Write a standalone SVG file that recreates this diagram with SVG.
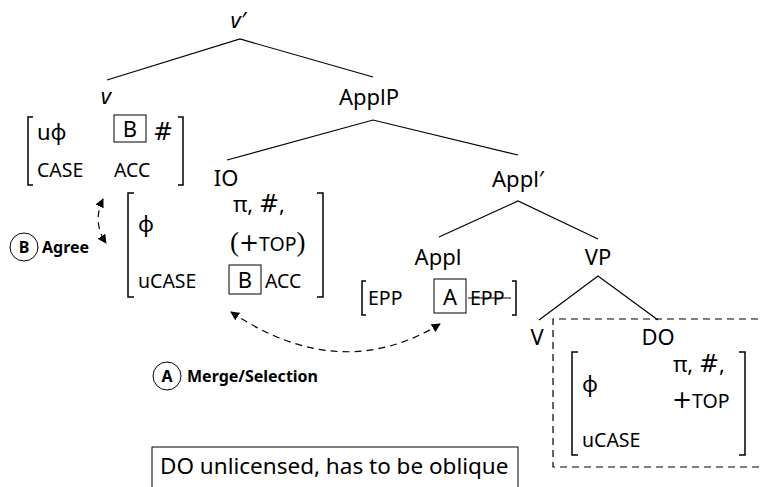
<svg xmlns="http://www.w3.org/2000/svg" width="763" height="487" viewBox="0 0 763 487">
<style>
text{font-family:"Noto Sans","Open Sans",sans-serif;fill:#000}
.lab{font-size:22px}
.sc{font-size:19.5px}
.m{font-family:"DejaVu Sans",sans-serif;font-size:24px}
.p{font-family:"Liberation Serif","DejaVu Serif",serif;font-size:27px}
.br{fill:none;stroke:#000;stroke-width:1.5}
.edge{fill:none;stroke:#000;stroke-width:1.2}
.box{fill:none;stroke:#000;stroke-width:1}
.dash{fill:none;stroke:#000;stroke-width:1.2;stroke-dasharray:7 5}
.bold{font-size:16px;font-weight:bold}
</style>
<defs>
<marker id="ah" viewBox="0 0 10 10" refX="9" refY="5" markerWidth="9" markerHeight="9" markerUnits="userSpaceOnUse" orient="auto-start-reverse">
<path d="M0,0 L10,5 L0,10 Z" fill="#000"/>
</marker>
</defs>

<g id="connectors">
<path class="edge" d="M107,80 L240,39 L373,77"/>
<path class="edge" d="M227,160 L373,120 L518,155"/>
<path class="edge" d="M439,237 L518,201 L598,239"/>
<path class="edge" d="M539,320 L598,276 L658,320"/>
<path class="dash" d="M103,199 Q92,222 106,243" marker-start="url(#ah)" marker-end="url(#ah)"/>
<path class="dash" d="M231,312 Q340,385 440,324" marker-start="url(#ah)" marker-end="url(#ah)"/>
</g>

<g id="vbar">
<text class="lab" x="238" y="28" text-anchor="middle" font-style="italic">v′</text>
</g>

<g id="v">
<text class="lab" x="106" y="104" text-anchor="middle" font-style="italic">v</text>
<path class="br" d="M33,117 H28 V185 H33"/>
<path class="br" d="M178,117 H183 V185 H178"/>
<text class="lab" x="37" y="140">uϕ</text>
<rect class="box" x="114" y="115" width="32" height="27"/>
<text class="lab" x="130" y="137" text-anchor="middle">B</text>
<text class="m" x="153" y="140">#</text>
<text class="sc" x="37" y="177">CASE</text>
<text class="sc" x="114" y="177">ACC</text>
</g>

<g id="ApplP">
<text class="lab" x="369" y="105" text-anchor="middle">ApplP</text>
</g>

<g id="IO">
<text class="lab" x="226" y="186" text-anchor="middle">IO</text>
<path class="br" d="M134,193 H128 V297 H134"/>
<path class="br" d="M317,193 H323 V297 H317"/>
<text class="lab" x="138" y="232">ϕ</text>
<text class="lab" x="233" y="212">π, <tspan class="m">#</tspan>,</text>
<text class="lab" x="230" y="251"><tspan class="p">(</tspan><tspan class="m">+</tspan><tspan class="sc">TOP</tspan><tspan class="p">)</tspan></text>
<text class="sc" x="138" y="288">uCASE</text>
<rect class="box" x="229" y="265" width="32" height="29"/>
<text class="lab" x="245" y="288" text-anchor="middle">B</text>
<text class="sc" x="265" y="288">ACC</text>
</g>

<g id="Applbar">
<text class="lab" x="518" y="187" text-anchor="middle">Appl′</text>
</g>

<g id="Appl">
<text class="lab" x="438" y="265" text-anchor="middle">Appl</text>
<path class="br" d="M366,281 H362 V315 H366"/>
<path class="br" d="M512,281 H516 V315 H512"/>
<text class="sc" x="368" y="305">EPP</text>
<rect class="box" x="434" y="279" width="32" height="34"/>
<text class="lab" x="450" y="305" text-anchor="middle">A</text>
<text class="sc" x="470" y="305">EPP</text>
<line x1="468" y1="298" x2="511" y2="298" stroke="#000" stroke-width="1.2"/>
</g>

<g id="VP">
<text class="lab" x="598" y="265" text-anchor="middle">VP</text>
</g>

<g id="V">
<text class="lab" x="537" y="345" text-anchor="middle">V</text>
</g>

<g id="DO">
<path class="dash" d="M770,319 H553 V467 H770"/>
<text class="lab" x="658" y="345" text-anchor="middle">DO</text>
<path class="br" d="M578,352 H572 V455 H578"/>
<path class="br" d="M739,352 H745 V455 H739"/>
<text class="lab" x="582" y="392">ϕ</text>
<text class="lab" x="673" y="372">π, <tspan class="m">#</tspan>,</text>
<text class="lab" x="672" y="408"><tspan class="m">+</tspan><tspan class="sc">TOP</tspan></text>
<text class="sc" x="582" y="447">uCASE</text>
</g>

<g id="agree">
<circle cx="24" cy="247" r="14" fill="none" stroke="#000" stroke-width="1"/>
<text class="bold" x="24" y="253" text-anchor="middle">B</text>
<text class="bold" x="42" y="253">Agree</text>
</g>

<g id="merge">
<circle cx="167" cy="376" r="14" fill="none" stroke="#000" stroke-width="1"/>
<text class="bold" x="167" y="382" text-anchor="middle">A</text>
<text class="bold" x="187" y="382">Merge/Selection</text>
</g>

<g id="note">
<rect x="152" y="447" width="366" height="50" fill="none" stroke="#000" stroke-width="1"/>
<text x="160" y="474" font-size="22.5">DO unlicensed, has to be oblique</text>
</g>
</svg>
